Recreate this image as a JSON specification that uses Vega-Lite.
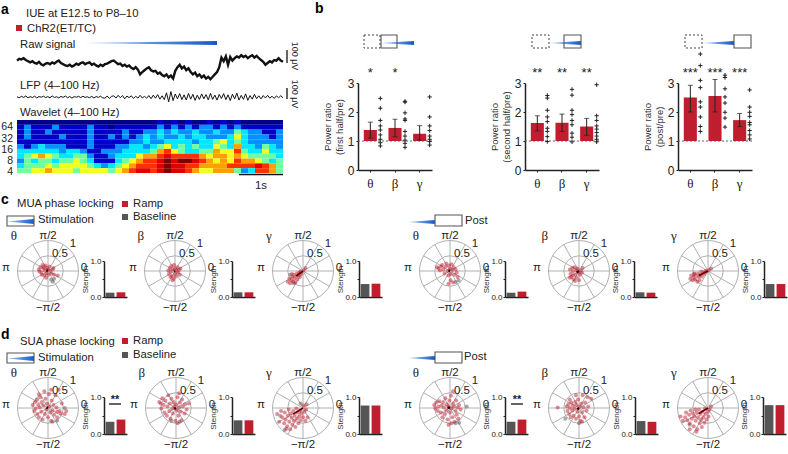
{"$schema":"https://vega.github.io/schema/vega-lite/v6.json","width":788,"height":454,"padding":0,"autosize":{"type":"none"},"background":"white",
"config":{"view":{"stroke":null},"font":"Liberation Sans","legend":{"disable":true},"axis":{"grid":false,"domainColor":"#222","tickColor":"#222","labelColor":"#222","titleColor":"#333","domainWidth":1.5,"titleFontWeight":"normal","labelFont":"Liberation Sans","titleFont":"Liberation Sans"},
"range":{"category":["#555555","#be1e2d"],"heatmap":["#00008f","#0000c8","#0090ff","#00e8ff","#70ffa0","#f0ff20","#ffa000","#ff3000","#e00000","#800000"]},
"text":{"color":"#222","fontSize":11.5},
"rule":{"color":"#b0b0b0","strokeWidth":1},
"point":{"color":"#b0b0b0","opacity":1,"strokeWidth":1},
"area":{"color":{"gradient":"linear","x1":0,"y1":0,"x2":1,"y2":0,"stops":[{"offset":0,"color":"#a6cbf2"},{"offset":1,"color":"#1259c9"}]}}},
"resolve":{"scale":{"x":"independent","y":"independent","color":"independent"}},
"datasets":{
"o":[{"x":0,"y":0}],
"ramp":[{"t":0,"a":0,"b":0},{"t":1,"a":1,"b":-1}],
"sp":[{"x":1,"y":0,"u":-1,"v":0},{"x":0.866,"y":0.5,"u":-0.866,"v":-0.5},{"x":0.5,"y":0.866,"u":-0.5,"v":-0.866},{"x":0,"y":1,"u":0,"v":-1},{"x":-0.5,"y":0.866,"u":0.5,"v":-0.866},{"x":-0.866,"y":0.5,"u":0.866,"v":-0.5}],
"pl":[{"x":0,"y":1.15,"t":"π/2"},{"x":0,"y":-1.22,"t":"−π/2"},{"x":-1.38,"y":0.1,"t":"π"},{"x":1.18,"y":0.1,"t":"0"},{"x":0.82,"y":0.88,"t":"1"},{"x":0.39,"y":0.55,"t":"0.5"}],
"raw":[{"t":0,"v":-5},{"t":1,"v":10},{"t":2,"v":5},{"t":3,"v":15},{"t":4,"v":0},{"t":5,"v":-10},{"t":6,"v":-20},{"t":7,"v":-10},{"t":8,"v":-25},{"t":9,"v":-30},{"t":10,"v":-15},{"t":11,"v":-35},{"t":12,"v":-45},{"t":13,"v":-30},{"t":14,"v":-25},{"t":15,"v":-35},{"t":16,"v":-20},{"t":17,"v":-30},{"t":18,"v":-15},{"t":19,"v":-5},{"t":20,"v":-25},{"t":21,"v":-35},{"t":22,"v":-45},{"t":23,"v":-50},{"t":24,"v":-40},{"t":25,"v":-55},{"t":26,"v":-45},{"t":27,"v":-30},{"t":28,"v":-40},{"t":29,"v":-25},{"t":30,"v":-20},{"t":31,"v":-35},{"t":32,"v":-25},{"t":33,"v":-20},{"t":34,"v":-40},{"t":35,"v":-30},{"t":36,"v":-45},{"t":37,"v":-55},{"t":38,"v":-40},{"t":39,"v":-50},{"t":40,"v":-35},{"t":41,"v":-30},{"t":42,"v":-20},{"t":43,"v":-10},{"t":44,"v":-5},{"t":45,"v":-20},{"t":46,"v":-35},{"t":47,"v":-30},{"t":48,"v":-50},{"t":49,"v":-40},{"t":50,"v":-55},{"t":51,"v":-45},{"t":52,"v":-65},{"t":53,"v":-75},{"t":54,"v":-60},{"t":55,"v":-80},{"t":56,"v":-120},{"t":57,"v":-100},{"t":58,"v":-85},{"t":59,"v":-70},{"t":60,"v":-60},{"t":61,"v":-85},{"t":62,"v":-95},{"t":63,"v":-90},{"t":64,"v":-115},{"t":65,"v":-105},{"t":66,"v":-125},{"t":67,"v":-135},{"t":68,"v":-120},{"t":69,"v":-145},{"t":70,"v":-130},{"t":71,"v":-155},{"t":72,"v":-90},{"t":73,"v":-60},{"t":74,"v":-40},{"t":75,"v":-70},{"t":76,"v":-55},{"t":77,"v":-85},{"t":78,"v":-70},{"t":79,"v":-100},{"t":80,"v":-120},{"t":81,"v":-105},{"t":82,"v":-135},{"t":83,"v":-120},{"t":84,"v":-145},{"t":85,"v":-130},{"t":86,"v":-155},{"t":87,"v":-140},{"t":88,"v":-160},{"t":89,"v":-140},{"t":90,"v":-120},{"t":91,"v":-100},{"t":92,"v":-60},{"t":93,"v":20},{"t":94,"v":-10},{"t":95,"v":30},{"t":96,"v":-40},{"t":97,"v":25},{"t":98,"v":-5},{"t":99,"v":15},{"t":100,"v":30},{"t":101,"v":20},{"t":102,"v":40},{"t":103,"v":25},{"t":104,"v":35},{"t":105,"v":15},{"t":106,"v":30},{"t":107,"v":40},{"t":108,"v":20},{"t":109,"v":35},{"t":110,"v":15},{"t":111,"v":0},{"t":112,"v":-15},{"t":113,"v":-40},{"t":114,"v":-25},{"t":115,"v":-10},{"t":116,"v":-20},{"t":117,"v":0},{"t":118,"v":-5},{"t":119,"v":15},{"t":120,"v":-5},{"t":121,"v":-15}],
"lfp":[{"t":0,"v":2},{"t":1,"v":-6},{"t":2,"v":5},{"t":3,"v":-3},{"t":4,"v":8},{"t":5,"v":-7},{"t":6,"v":3},{"t":7,"v":-4},{"t":8,"v":6},{"t":9,"v":-8},{"t":10,"v":4},{"t":11,"v":-2},{"t":12,"v":7},{"t":13,"v":-5},{"t":14,"v":3},{"t":15,"v":-6},{"t":16,"v":9},{"t":17,"v":-4},{"t":18,"v":2},{"t":19,"v":-7},{"t":20,"v":5},{"t":21,"v":-3},{"t":22,"v":8},{"t":23,"v":-6},{"t":24,"v":4},{"t":25,"v":-9},{"t":26,"v":3},{"t":27,"v":-2},{"t":28,"v":6},{"t":29,"v":-5},{"t":30,"v":7},{"t":31,"v":-4},{"t":32,"v":2},{"t":33,"v":-6},{"t":34,"v":5},{"t":35,"v":-8},{"t":36,"v":4},{"t":37,"v":-3},{"t":38,"v":6},{"t":39,"v":-7},{"t":40,"v":-10},{"t":41,"v":8},{"t":42,"v":-12},{"t":43,"v":5},{"t":44,"v":10},{"t":45,"v":-9},{"t":46,"v":14},{"t":47,"v":-6},{"t":48,"v":12},{"t":49,"v":-15},{"t":50,"v":8},{"t":51,"v":-5},{"t":52,"v":10},{"t":53,"v":-12},{"t":54,"v":6},{"t":55,"v":-9},{"t":56,"v":14},{"t":57,"v":-8},{"t":58,"v":5},{"t":59,"v":-10},{"t":60,"v":12},{"t":61,"v":-14},{"t":62,"v":16},{"t":63,"v":-10},{"t":64,"v":20},{"t":65,"v":-18},{"t":66,"v":10},{"t":67,"v":-22},{"t":68,"v":35},{"t":69,"v":-40},{"t":70,"v":45},{"t":71,"v":-30},{"t":72,"v":25},{"t":73,"v":-15},{"t":74,"v":28},{"t":75,"v":-22},{"t":76,"v":18},{"t":77,"v":-25},{"t":78,"v":30},{"t":79,"v":-18},{"t":80,"v":22},{"t":81,"v":-28},{"t":82,"v":15},{"t":83,"v":-20},{"t":84,"v":26},{"t":85,"v":-15},{"t":86,"v":20},{"t":87,"v":-24},{"t":88,"v":30},{"t":89,"v":-20},{"t":90,"v":16},{"t":91,"v":-26},{"t":92,"v":22},{"t":93,"v":-12},{"t":94,"v":28},{"t":95,"v":-22},{"t":96,"v":18},{"t":97,"v":-30},{"t":98,"v":24},{"t":99,"v":-16},{"t":100,"v":32},{"t":101,"v":-25},{"t":102,"v":14},{"t":103,"v":-20},{"t":104,"v":26},{"t":105,"v":-28},{"t":106,"v":12},{"t":107,"v":-18},{"t":108,"v":22},{"t":109,"v":-14},{"t":110,"v":10},{"t":111,"v":-16},{"t":112,"v":12},{"t":113,"v":-8},{"t":114,"v":14},{"t":115,"v":-10},{"t":116,"v":7},{"t":117,"v":-12},{"t":118,"v":9},{"t":119,"v":-6},{"t":120,"v":11},{"t":121,"v":-7}],
"heat":[
{"t":0,"f":10,"p":0},{"t":1,"f":10,"p":0},{"t":2,"f":10,"p":0},{"t":3,"f":10,"p":0},{"t":4,"f":10,"p":0},{"t":5,"f":10,"p":0},{"t":6,"f":10,"p":0},{"t":7,"f":10,"p":0},{"t":8,"f":10,"p":0},{"t":9,"f":10,"p":0},{"t":10,"f":10,"p":0},{"t":11,"f":10,"p":0},{"t":12,"f":10,"p":0},{"t":13,"f":10,"p":0},{"t":14,"f":10,"p":0},{"t":15,"f":10,"p":0},{"t":16,"f":10,"p":0},{"t":17,"f":10,"p":0},{"t":18,"f":10,"p":0},{"t":19,"f":10,"p":0},{"t":20,"f":10,"p":1},{"t":21,"f":10,"p":0},{"t":22,"f":10,"p":1},{"t":23,"f":10,"p":0},{"t":24,"f":10,"p":1},{"t":25,"f":10,"p":0},{"t":26,"f":10,"p":0},{"t":27,"f":10,"p":1},{"t":28,"f":10,"p":0},{"t":29,"f":10,"p":1},{"t":30,"f":10,"p":0},{"t":31,"f":10,"p":1},{"t":32,"f":10,"p":0},{"t":33,"f":10,"p":0},{"t":34,"f":10,"p":0},{"t":35,"f":10,"p":0},{"t":36,"f":10,"p":0},{"t":37,"f":10,"p":0},
{"t":0,"f":9,"p":1},{"t":1,"f":9,"p":2},{"t":2,"f":9,"p":1},{"t":3,"f":9,"p":1},{"t":4,"f":9,"p":1},{"t":5,"f":9,"p":2},{"t":6,"f":9,"p":1},{"t":7,"f":9,"p":1},{"t":8,"f":9,"p":1},{"t":9,"f":9,"p":1},{"t":10,"f":9,"p":2},{"t":11,"f":9,"p":1},{"t":12,"f":9,"p":1},{"t":13,"f":9,"p":0},{"t":14,"f":9,"p":1},{"t":15,"f":9,"p":1},{"t":16,"f":9,"p":1},{"t":17,"f":9,"p":1},{"t":18,"f":9,"p":1},{"t":19,"f":9,"p":1},{"t":20,"f":9,"p":2},{"t":21,"f":9,"p":1},{"t":22,"f":9,"p":2},{"t":23,"f":9,"p":1},{"t":24,"f":9,"p":2},{"t":25,"f":9,"p":1},{"t":26,"f":9,"p":2},{"t":27,"f":9,"p":2},{"t":28,"f":9,"p":1},{"t":29,"f":9,"p":2},{"t":30,"f":9,"p":1},{"t":31,"f":9,"p":2},{"t":32,"f":9,"p":1},{"t":33,"f":9,"p":1},{"t":34,"f":9,"p":1},{"t":35,"f":9,"p":1},{"t":36,"f":9,"p":1},{"t":37,"f":9,"p":1},
{"t":0,"f":8,"p":1},{"t":1,"f":8,"p":2},{"t":2,"f":8,"p":1},{"t":3,"f":8,"p":1},{"t":4,"f":8,"p":2},{"t":5,"f":8,"p":1},{"t":6,"f":8,"p":1},{"t":7,"f":8,"p":1},{"t":8,"f":8,"p":1},{"t":9,"f":8,"p":1},{"t":10,"f":8,"p":2},{"t":11,"f":8,"p":1},{"t":12,"f":8,"p":1},{"t":13,"f":8,"p":1},{"t":14,"f":8,"p":1},{"t":15,"f":8,"p":2},{"t":16,"f":8,"p":1},{"t":17,"f":8,"p":1},{"t":18,"f":8,"p":2},{"t":19,"f":8,"p":2},{"t":20,"f":8,"p":3},{"t":21,"f":8,"p":2},{"t":22,"f":8,"p":3},{"t":23,"f":8,"p":2},{"t":24,"f":8,"p":2},{"t":25,"f":8,"p":3},{"t":26,"f":8,"p":2},{"t":27,"f":8,"p":2},{"t":28,"f":8,"p":3},{"t":29,"f":8,"p":2},{"t":30,"f":8,"p":2},{"t":31,"f":8,"p":4},{"t":32,"f":8,"p":3},{"t":33,"f":8,"p":2},{"t":34,"f":8,"p":2},{"t":35,"f":8,"p":1},{"t":36,"f":8,"p":1},{"t":37,"f":8,"p":2},
{"t":0,"f":7,"p":1},{"t":1,"f":7,"p":2},{"t":2,"f":7,"p":1},{"t":3,"f":7,"p":1},{"t":4,"f":7,"p":1},{"t":5,"f":7,"p":1},{"t":6,"f":7,"p":2},{"t":7,"f":7,"p":1},{"t":8,"f":7,"p":1},{"t":9,"f":7,"p":1},{"t":10,"f":7,"p":2},{"t":11,"f":7,"p":1},{"t":12,"f":7,"p":1},{"t":13,"f":7,"p":2},{"t":14,"f":7,"p":1},{"t":15,"f":7,"p":2},{"t":16,"f":7,"p":1},{"t":17,"f":7,"p":2},{"t":18,"f":7,"p":3},{"t":19,"f":7,"p":2},{"t":20,"f":7,"p":3},{"t":21,"f":7,"p":2},{"t":22,"f":7,"p":2},{"t":23,"f":7,"p":3},{"t":24,"f":7,"p":2},{"t":25,"f":7,"p":3},{"t":26,"f":7,"p":3},{"t":27,"f":7,"p":2},{"t":28,"f":7,"p":2},{"t":29,"f":7,"p":2},{"t":30,"f":7,"p":3},{"t":31,"f":7,"p":5},{"t":32,"f":7,"p":3},{"t":33,"f":7,"p":2},{"t":34,"f":7,"p":2},{"t":35,"f":7,"p":2},{"t":36,"f":7,"p":1},{"t":37,"f":7,"p":2},
{"t":0,"f":6,"p":1},{"t":1,"f":6,"p":1},{"t":2,"f":6,"p":1},{"t":3,"f":6,"p":1},{"t":4,"f":6,"p":1},{"t":5,"f":6,"p":1},{"t":6,"f":6,"p":1},{"t":7,"f":6,"p":1},{"t":8,"f":6,"p":1},{"t":9,"f":6,"p":1},{"t":10,"f":6,"p":2},{"t":11,"f":6,"p":1},{"t":12,"f":6,"p":1},{"t":13,"f":6,"p":1},{"t":14,"f":6,"p":1},{"t":15,"f":6,"p":1},{"t":16,"f":6,"p":2},{"t":17,"f":6,"p":2},{"t":18,"f":6,"p":3},{"t":19,"f":6,"p":2},{"t":20,"f":6,"p":2},{"t":21,"f":6,"p":3},{"t":22,"f":6,"p":3},{"t":23,"f":6,"p":3},{"t":24,"f":6,"p":3},{"t":25,"f":6,"p":2},{"t":26,"f":6,"p":3},{"t":27,"f":6,"p":3},{"t":28,"f":6,"p":4},{"t":29,"f":6,"p":5},{"t":30,"f":6,"p":3},{"t":31,"f":6,"p":4},{"t":32,"f":6,"p":3},{"t":33,"f":6,"p":2},{"t":34,"f":6,"p":2},{"t":35,"f":6,"p":2},{"t":36,"f":6,"p":2},{"t":37,"f":6,"p":2},
{"t":0,"f":5,"p":2},{"t":1,"f":5,"p":1},{"t":2,"f":5,"p":2},{"t":3,"f":5,"p":3},{"t":4,"f":5,"p":2},{"t":5,"f":5,"p":2},{"t":6,"f":5,"p":2},{"t":7,"f":5,"p":1},{"t":8,"f":5,"p":1},{"t":9,"f":5,"p":1},{"t":10,"f":5,"p":2},{"t":11,"f":5,"p":1},{"t":12,"f":5,"p":1},{"t":13,"f":5,"p":1},{"t":14,"f":5,"p":2},{"t":15,"f":5,"p":2},{"t":16,"f":5,"p":3},{"t":17,"f":5,"p":3},{"t":18,"f":5,"p":2},{"t":19,"f":5,"p":3},{"t":20,"f":5,"p":4},{"t":21,"f":5,"p":5},{"t":22,"f":5,"p":3},{"t":23,"f":5,"p":4},{"t":24,"f":5,"p":3},{"t":25,"f":5,"p":4},{"t":26,"f":5,"p":3},{"t":27,"f":5,"p":3},{"t":28,"f":5,"p":5},{"t":29,"f":5,"p":4},{"t":30,"f":5,"p":3},{"t":31,"f":5,"p":6},{"t":32,"f":5,"p":3},{"t":33,"f":5,"p":3},{"t":34,"f":5,"p":2},{"t":35,"f":5,"p":4},{"t":36,"f":5,"p":3},{"t":37,"f":5,"p":2},
{"t":0,"f":4,"p":3},{"t":1,"f":4,"p":3},{"t":2,"f":4,"p":3},{"t":3,"f":4,"p":3},{"t":4,"f":4,"p":3},{"t":5,"f":4,"p":3},{"t":6,"f":4,"p":2},{"t":7,"f":4,"p":3},{"t":8,"f":4,"p":3},{"t":9,"f":4,"p":2},{"t":10,"f":4,"p":1},{"t":11,"f":4,"p":1},{"t":12,"f":4,"p":2},{"t":13,"f":4,"p":2},{"t":14,"f":4,"p":2},{"t":15,"f":4,"p":3},{"t":16,"f":4,"p":3},{"t":17,"f":4,"p":3},{"t":18,"f":4,"p":3},{"t":19,"f":4,"p":4},{"t":20,"f":4,"p":6},{"t":21,"f":4,"p":7},{"t":22,"f":4,"p":5},{"t":23,"f":4,"p":4},{"t":24,"f":4,"p":3},{"t":25,"f":4,"p":3},{"t":26,"f":4,"p":4},{"t":27,"f":4,"p":4},{"t":28,"f":4,"p":6},{"t":29,"f":4,"p":5},{"t":30,"f":4,"p":5},{"t":31,"f":4,"p":7},{"t":32,"f":4,"p":4},{"t":33,"f":4,"p":3},{"t":34,"f":4,"p":3},{"t":35,"f":4,"p":5},{"t":36,"f":4,"p":3},{"t":37,"f":4,"p":3},
{"t":0,"f":3,"p":3},{"t":1,"f":3,"p":4},{"t":2,"f":3,"p":5},{"t":3,"f":3,"p":6},{"t":4,"f":3,"p":5},{"t":5,"f":3,"p":4},{"t":6,"f":3,"p":3},{"t":7,"f":3,"p":3},{"t":8,"f":3,"p":4},{"t":9,"f":3,"p":4},{"t":10,"f":3,"p":2},{"t":11,"f":3,"p":1},{"t":12,"f":3,"p":1},{"t":13,"f":3,"p":2},{"t":14,"f":3,"p":3},{"t":15,"f":3,"p":3},{"t":16,"f":3,"p":3},{"t":17,"f":3,"p":5},{"t":18,"f":3,"p":6},{"t":19,"f":3,"p":6},{"t":20,"f":3,"p":7},{"t":21,"f":3,"p":8},{"t":22,"f":3,"p":7},{"t":23,"f":3,"p":7},{"t":24,"f":3,"p":7},{"t":25,"f":3,"p":7},{"t":26,"f":3,"p":6},{"t":27,"f":3,"p":5},{"t":28,"f":3,"p":6},{"t":29,"f":3,"p":6},{"t":30,"f":3,"p":5},{"t":31,"f":3,"p":6},{"t":32,"f":3,"p":5},{"t":33,"f":3,"p":4},{"t":34,"f":3,"p":4},{"t":35,"f":3,"p":4},{"t":36,"f":3,"p":4},{"t":37,"f":3,"p":3},
{"t":0,"f":2,"p":2},{"t":1,"f":2,"p":4},{"t":2,"f":2,"p":3},{"t":3,"f":2,"p":4},{"t":4,"f":2,"p":4},{"t":5,"f":2,"p":3},{"t":6,"f":2,"p":4},{"t":7,"f":2,"p":4},{"t":8,"f":2,"p":5},{"t":9,"f":2,"p":4},{"t":10,"f":2,"p":3},{"t":11,"f":2,"p":1},{"t":12,"f":2,"p":1},{"t":13,"f":2,"p":1},{"t":14,"f":2,"p":3},{"t":15,"f":2,"p":4},{"t":16,"f":2,"p":5},{"t":17,"f":2,"p":6},{"t":18,"f":2,"p":7},{"t":19,"f":2,"p":7},{"t":20,"f":2,"p":8},{"t":21,"f":2,"p":9},{"t":22,"f":2,"p":8},{"t":23,"f":2,"p":9},{"t":24,"f":2,"p":9},{"t":25,"f":2,"p":8},{"t":26,"f":2,"p":7},{"t":27,"f":2,"p":6},{"t":28,"f":2,"p":5},{"t":29,"f":2,"p":6},{"t":30,"f":2,"p":5},{"t":31,"f":2,"p":7},{"t":32,"f":2,"p":6},{"t":33,"f":2,"p":6},{"t":34,"f":2,"p":5},{"t":35,"f":2,"p":4},{"t":36,"f":2,"p":3},{"t":37,"f":2,"p":4},
{"t":0,"f":1,"p":3},{"t":1,"f":1,"p":4},{"t":2,"f":1,"p":4},{"t":3,"f":1,"p":4},{"t":4,"f":1,"p":5},{"t":5,"f":1,"p":4},{"t":6,"f":1,"p":5},{"t":7,"f":1,"p":5},{"t":8,"f":1,"p":5},{"t":9,"f":1,"p":5},{"t":10,"f":1,"p":4},{"t":11,"f":1,"p":3},{"t":12,"f":1,"p":2},{"t":13,"f":1,"p":3},{"t":14,"f":1,"p":4},{"t":15,"f":1,"p":5},{"t":16,"f":1,"p":6},{"t":17,"f":1,"p":7},{"t":18,"f":1,"p":7},{"t":19,"f":1,"p":7},{"t":20,"f":1,"p":8},{"t":21,"f":1,"p":9},{"t":22,"f":1,"p":8},{"t":23,"f":1,"p":8},{"t":24,"f":1,"p":7},{"t":25,"f":1,"p":7},{"t":26,"f":1,"p":6},{"t":27,"f":1,"p":6},{"t":28,"f":1,"p":6},{"t":29,"f":1,"p":6},{"t":30,"f":1,"p":7},{"t":31,"f":1,"p":7},{"t":32,"f":1,"p":7},{"t":33,"f":1,"p":7},{"t":34,"f":1,"p":8},{"t":35,"f":1,"p":7},{"t":36,"f":1,"p":6},{"t":37,"f":1,"p":4},
{"t":0,"f":0,"p":4},{"t":1,"f":0,"p":4},{"t":2,"f":0,"p":5},{"t":3,"f":0,"p":5},{"t":4,"f":0,"p":6},{"t":5,"f":0,"p":5},{"t":6,"f":0,"p":5},{"t":7,"f":0,"p":5},{"t":8,"f":0,"p":4},{"t":9,"f":0,"p":5},{"t":10,"f":0,"p":5},{"t":11,"f":0,"p":5},{"t":12,"f":0,"p":5},{"t":13,"f":0,"p":4},{"t":14,"f":0,"p":5},{"t":15,"f":0,"p":6},{"t":16,"f":0,"p":7},{"t":17,"f":0,"p":8},{"t":18,"f":0,"p":8},{"t":19,"f":0,"p":7},{"t":20,"f":0,"p":8},{"t":21,"f":0,"p":9},{"t":22,"f":0,"p":8},{"t":23,"f":0,"p":8},{"t":24,"f":0,"p":7},{"t":25,"f":0,"p":6},{"t":26,"f":0,"p":5},{"t":27,"f":0,"p":5},{"t":28,"f":0,"p":6},{"t":29,"f":0,"p":6},{"t":30,"f":0,"p":6},{"t":31,"f":0,"p":4},{"t":32,"f":0,"p":2},{"t":33,"f":0,"p":3},{"t":34,"f":0,"p":7},{"t":35,"f":0,"p":7},{"t":36,"f":0,"p":6},{"t":37,"f":0,"p":4}],
"b1":[{"c":"θ","v":1.38},{"c":"β","v":1.45},{"c":"γ","v":1.25}],
"b2":[{"c":"θ","v":1.62},{"c":"β","v":1.63},{"c":"γ","v":1.5}],
"b3":[{"c":"θ","v":2.5},{"c":"β","v":2.55},{"c":"γ","v":1.72}],
"e1":[{"c":"θ","v":1.1},{"c":"θ","v":1.65},{"c":"β","v":1.15},{"c":"β","v":1.75},{"c":"γ","v":1.03},{"c":"γ","v":1.53}],
"e2":[{"c":"θ","v":1.35},{"c":"θ","v":1.87},{"c":"β","v":1.33},{"c":"β","v":1.93},{"c":"γ","v":1.2},{"c":"γ","v":1.78}],
"e3":[{"c":"θ","v":2.0},{"c":"θ","v":2.92},{"c":"β","v":2.0},{"c":"β","v":3.12},{"c":"γ","v":1.5},{"c":"γ","v":1.95}],
"s1":[{"c":"θ","v":3.35,"s":"*"},{"c":"β","v":3.35,"s":"*"}],
"s2":[{"c":"θ","v":3.35,"s":"**"},{"c":"β","v":3.35,"s":"**"},{"c":"γ","v":3.35,"s":"**"}],
"s3":[{"c":"θ","v":3.35,"s":"***"},{"c":"β","v":3.35,"s":"***"},{"c":"γ","v":3.35,"s":"***"}],
"p1":[{"c":"θ","v":2.47},{"c":"θ","v":2.13},{"c":"θ","v":1.71},{"c":"θ","v":1.52},{"c":"θ","v":1.38},{"c":"θ","v":1.21},{"c":"θ","v":1.06},{"c":"θ","v":0.94},{"c":"θ","v":0.83},{"c":"β","v":2.37},{"c":"β","v":2.34},{"c":"β","v":1.97},{"c":"β","v":1.76},{"c":"β","v":1.71},{"c":"β","v":1.33},{"c":"β","v":1.17},{"c":"β","v":1.03},{"c":"β","v":0.92},{"c":"β","v":0.78},{"c":"γ","v":2.52},{"c":"γ","v":1.83},{"c":"γ","v":1.52},{"c":"γ","v":1.36},{"c":"γ","v":1.17},{"c":"γ","v":1.06},{"c":"γ","v":0.98},{"c":"γ","v":0.86}],
"p2":[{"c":"θ","v":2.57},{"c":"θ","v":2.48},{"c":"θ","v":2.06},{"c":"θ","v":1.83},{"c":"θ","v":1.67},{"c":"θ","v":1.44},{"c":"θ","v":1.33},{"c":"θ","v":1.15},{"c":"θ","v":0.98},{"c":"β","v":2.78},{"c":"β","v":2.58},{"c":"β","v":2.06},{"c":"β","v":1.91},{"c":"β","v":1.71},{"c":"β","v":1.56},{"c":"β","v":1.27},{"c":"β","v":1.13},{"c":"β","v":0.97},{"c":"γ","v":2.94},{"c":"γ","v":1.87},{"c":"γ","v":1.71},{"c":"γ","v":1.52},{"c":"γ","v":1.41},{"c":"γ","v":1.29},{"c":"γ","v":1.17},{"c":"γ","v":1.06},{"c":"γ","v":0.97}],
"p3":[{"c":"θ","v":4.0},{"c":"θ","v":3.6},{"c":"θ","v":3.09},{"c":"θ","v":2.84},{"c":"θ","v":2.35},{"c":"θ","v":2.17},{"c":"θ","v":1.83},{"c":"θ","v":1.5},{"c":"θ","v":1.33},{"c":"β","v":3.27},{"c":"β","v":3.19},{"c":"β","v":2.8},{"c":"β","v":2.52},{"c":"β","v":2.31},{"c":"β","v":1.99},{"c":"β","v":1.79},{"c":"β","v":1.48},{"c":"γ","v":2.76},{"c":"γ","v":2.17},{"c":"γ","v":1.99},{"c":"γ","v":1.85},{"c":"γ","v":1.64},{"c":"γ","v":1.56},{"c":"γ","v":1.36},{"c":"γ","v":1.21},{"c":"γ","v":1.07}],
"c1":[{"x":0.1,"y":-0.28,"s":"B"},{"x":0.2,"y":-0.25,"s":"B"},{"x":0.15,"y":-0.35,"s":"B"},{"x":-0.3,"y":0.05,"s":"R"},{"x":-0.25,"y":0.12,"s":"R"},{"x":-0.22,"y":-0.05,"s":"R"},{"x":-0.18,"y":0.2,"s":"R"},{"x":-0.15,"y":0.08,"s":"R"},{"x":-0.12,"y":-0.15,"s":"R"},{"x":-0.1,"y":0.02,"s":"R"},{"x":-0.08,"y":0.18,"s":"R"},{"x":-0.05,"y":-0.08,"s":"R"},{"x":-0.03,"y":0.1,"s":"R"},{"x":0,"y":0.05,"s":"R"},{"x":0.02,"y":-0.12,"s":"R"},{"x":0.05,"y":0.15,"s":"R"},{"x":0.08,"y":0,"s":"R"},{"x":0.12,"y":-0.08,"s":"R"},{"x":0.15,"y":0.06,"s":"R"},{"x":-0.2,"y":-0.12,"s":"R"},{"x":-0.28,"y":-0.02,"s":"R"},{"x":-0.14,"y":0.13,"s":"R"},{"x":0.2,"y":-0.12,"s":"R"},{"x":0.32,"y":-0.15,"s":"R"},{"x":-0.06,"y":-0.22,"s":"R"},{"x":0.18,"y":0.1,"s":"R"}],
"c2":[{"x":-0.22,"y":0.02,"s":"R"},{"x":-0.2,"y":-0.1,"s":"R"},{"x":-0.17,"y":0.1,"s":"R"},{"x":-0.14,"y":-0.02,"s":"R"},{"x":-0.12,"y":0.16,"s":"R"},{"x":-0.1,"y":-0.16,"s":"R"},{"x":-0.07,"y":0.05,"s":"R"},{"x":-0.05,"y":-0.25,"s":"R"},{"x":-0.03,"y":0.2,"s":"R"},{"x":0,"y":0.08,"s":"R"},{"x":0,"y":-0.1,"s":"R"},{"x":0.03,"y":-0.18,"s":"R"},{"x":0.05,"y":0.02,"s":"R"},{"x":0.08,"y":0.12,"s":"R"},{"x":0.1,"y":-0.06,"s":"R"},{"x":0.13,"y":0.03,"s":"R"},{"x":0.16,"y":-0.12,"s":"R"},{"x":-0.15,"y":-0.2,"s":"R"},{"x":-0.08,"y":-0.3,"s":"R"},{"x":0.18,"y":0.08,"s":"R"}],
"c3":[{"x":-0.3,"y":-0.4,"s":"B"},{"x":-0.42,"y":-0.12,"s":"B"},{"x":-0.5,"y":-0.35,"s":"R"},{"x":-0.45,"y":-0.25,"s":"R"},{"x":-0.42,"y":-0.4,"s":"R"},{"x":-0.38,"y":-0.3,"s":"R"},{"x":-0.35,"y":-0.2,"s":"R"},{"x":-0.32,"y":-0.35,"s":"R"},{"x":-0.3,"y":-0.12,"s":"R"},{"x":-0.28,"y":-0.25,"s":"R"},{"x":-0.25,"y":-0.38,"s":"R"},{"x":-0.22,"y":-0.18,"s":"R"},{"x":-0.2,"y":-0.08,"s":"R"},{"x":-0.18,"y":-0.28,"s":"R"},{"x":-0.15,"y":-0.14,"s":"R"},{"x":-0.12,"y":-0.05,"s":"R"},{"x":-0.1,"y":-0.2,"s":"R"},{"x":-0.08,"y":-0.02,"s":"R"},{"x":-0.05,"y":-0.1,"s":"R"},{"x":0.02,"y":0.02,"s":"R"},{"x":-0.36,"y":-0.1,"s":"R"},{"x":0.08,"y":0.1,"s":"R"}],
"c4":[{"x":0.28,"y":-0.3,"s":"B"},{"x":0.18,"y":-0.36,"s":"B"},{"x":-0.42,"y":0.12,"s":"R"},{"x":-0.38,"y":0.08,"s":"R"},{"x":-0.33,"y":0.02,"s":"R"},{"x":-0.3,"y":0.15,"s":"R"},{"x":-0.26,"y":0.2,"s":"R"},{"x":-0.22,"y":0.05,"s":"R"},{"x":-0.18,"y":-0.08,"s":"R"},{"x":-0.15,"y":0.14,"s":"R"},{"x":-0.12,"y":0.25,"s":"R"},{"x":-0.08,"y":0,"s":"R"},{"x":-0.05,"y":-0.15,"s":"R"},{"x":-0.03,"y":0.18,"s":"R"},{"x":0,"y":0.07,"s":"R"},{"x":0.03,"y":-0.1,"s":"R"},{"x":0.05,"y":0.22,"s":"R"},{"x":0.08,"y":0.03,"s":"R"},{"x":0.12,"y":0.12,"s":"R"},{"x":0.15,"y":-0.12,"s":"R"},{"x":0.18,"y":0.06,"s":"R"},{"x":0.22,"y":-0.05,"s":"R"},{"x":0.02,"y":-0.3,"s":"R"},{"x":-0.05,"y":-0.42,"s":"R"},{"x":0.1,"y":-0.38,"s":"R"},{"x":0.25,"y":-0.2,"s":"R"}],
"c5":[{"x":-0.3,"y":0.05,"s":"R"},{"x":-0.28,"y":-0.1,"s":"R"},{"x":-0.25,"y":-0.2,"s":"R"},{"x":-0.22,"y":0.1,"s":"R"},{"x":-0.2,"y":-0.02,"s":"R"},{"x":-0.18,"y":-0.28,"s":"R"},{"x":-0.15,"y":0.12,"s":"R"},{"x":-0.12,"y":-0.12,"s":"R"},{"x":-0.1,"y":0.03,"s":"R"},{"x":-0.08,"y":-0.22,"s":"R"},{"x":-0.05,"y":0.08,"s":"R"},{"x":-0.02,"y":-0.05,"s":"R"},{"x":0,"y":-0.3,"s":"R"},{"x":0.03,"y":-0.12,"s":"R"},{"x":0.06,"y":0.02,"s":"R"},{"x":0.1,"y":-0.06,"s":"R"},{"x":-0.2,"y":-0.15,"s":"R"},{"x":-0.13,"y":-0.33,"s":"R"},{"x":0.12,"y":0.1,"s":"R"},{"x":-0.3,"y":-0.22,"s":"R"}],
"c6":[{"x":-0.45,"y":-0.1,"s":"B"},{"x":-0.58,"y":-0.25,"s":"R"},{"x":-0.55,"y":-0.15,"s":"R"},{"x":-0.5,"y":-0.3,"s":"R"},{"x":-0.48,"y":-0.2,"s":"R"},{"x":-0.45,"y":-0.08,"s":"R"},{"x":-0.42,"y":-0.28,"s":"R"},{"x":-0.4,"y":-0.15,"s":"R"},{"x":-0.35,"y":-0.35,"s":"R"},{"x":-0.33,"y":-0.08,"s":"R"},{"x":-0.3,"y":-0.2,"s":"R"},{"x":-0.28,"y":-0.3,"s":"R"},{"x":-0.25,"y":-0.12,"s":"R"},{"x":-0.22,"y":-0.02,"s":"R"},{"x":-0.2,"y":-0.18,"s":"R"},{"x":-0.15,"y":-0.05,"s":"R"},{"x":-0.12,"y":-0.1,"s":"R"},{"x":-0.08,"y":0,"s":"R"},{"x":-0.05,"y":-0.02,"s":"R"},{"x":0.03,"y":0.03,"s":"R"},{"x":0.1,"y":0.08,"s":"R"}],
"d1":[{"x":0.3,"y":-0.42,"s":"B"},{"x":0.55,"y":0,"s":"B"},{"x":0.15,"y":-0.45,"s":"B"},{"x":-0.5,"y":0.1,"s":"R"},{"x":-0.45,"y":-0.1,"s":"R"},{"x":-0.42,"y":0.2,"s":"R"},{"x":-0.4,"y":-0.02,"s":"R"},{"x":-0.36,"y":0.28,"s":"R"},{"x":-0.35,"y":-0.2,"s":"R"},{"x":-0.32,"y":0.1,"s":"R"},{"x":-0.3,"y":-0.3,"s":"R"},{"x":-0.27,"y":0.02,"s":"R"},{"x":-0.25,"y":0.35,"s":"R"},{"x":-0.22,"y":-0.12,"s":"R"},{"x":-0.2,"y":0.2,"s":"R"},{"x":-0.18,"y":-0.38,"s":"R"},{"x":-0.15,"y":0.08,"s":"R"},{"x":-0.12,"y":0.55,"s":"R"},{"x":-0.1,"y":-0.2,"s":"R"},{"x":-0.08,"y":0.3,"s":"R"},{"x":-0.05,"y":-0.05,"s":"R"},{"x":-0.02,"y":0.15,"s":"R"},{"x":0,"y":-0.3,"s":"R"},{"x":0.03,"y":0.45,"s":"R"},{"x":0.05,"y":0.05,"s":"R"},{"x":0.08,"y":-0.15,"s":"R"},{"x":0.1,"y":0.6,"s":"R"},{"x":0.12,"y":0.25,"s":"R"},{"x":0.15,"y":-0.08,"s":"R"},{"x":0.18,"y":0.1,"s":"R"},{"x":0.2,"y":-0.22,"s":"R"},{"x":0.25,"y":0.42,"s":"R"},{"x":0.28,"y":0.02,"s":"R"},{"x":0.3,"y":-0.12,"s":"R"},{"x":0.35,"y":0.6,"s":"R"},{"x":0.38,"y":-0.1,"s":"R"},{"x":0.42,"y":-0.18,"s":"R"},{"x":0.55,"y":-0.2,"s":"R"},{"x":0.6,"y":-0.1,"s":"R"},{"x":0.1,"y":-0.42,"s":"R"},{"x":0.3,"y":-0.3,"s":"R"},{"x":-0.3,"y":0.45,"s":"R"},{"x":0.45,"y":0.15,"s":"R"}],
"d2":[{"x":-0.15,"y":-0.42,"s":"B"},{"x":0.12,"y":-0.45,"s":"B"},{"x":-0.5,"y":0.15,"s":"R"},{"x":-0.48,"y":-0.02,"s":"R"},{"x":-0.45,"y":0.32,"s":"R"},{"x":-0.4,"y":0.1,"s":"R"},{"x":-0.38,"y":-0.15,"s":"R"},{"x":-0.35,"y":0.25,"s":"R"},{"x":-0.3,"y":-0.25,"s":"R"},{"x":-0.28,"y":0.05,"s":"R"},{"x":-0.25,"y":0.42,"s":"R"},{"x":-0.22,"y":-0.1,"s":"R"},{"x":-0.2,"y":0.15,"s":"R"},{"x":-0.18,"y":-0.35,"s":"R"},{"x":-0.15,"y":0.3,"s":"R"},{"x":-0.12,"y":-0.02,"s":"R"},{"x":-0.1,"y":-0.18,"s":"R"},{"x":-0.08,"y":0.2,"s":"R"},{"x":-0.05,"y":0.05,"s":"R"},{"x":-0.02,"y":-0.42,"s":"R"},{"x":0,"y":0.12,"s":"R"},{"x":0.03,"y":-0.08,"s":"R"},{"x":0.05,"y":0.35,"s":"R"},{"x":0.08,"y":-0.25,"s":"R"},{"x":0.1,"y":0.02,"s":"R"},{"x":0.13,"y":0.18,"s":"R"},{"x":0.15,"y":-0.12,"s":"R"},{"x":0.18,"y":-0.4,"s":"R"},{"x":0.2,"y":0.28,"s":"R"},{"x":0.22,"y":0.05,"s":"R"},{"x":0.28,"y":-0.18,"s":"R"},{"x":0.3,"y":0.12,"s":"R"},{"x":0.35,"y":-0.05,"s":"R"},{"x":0.42,"y":0.15,"s":"R"},{"x":0.1,"y":0.48,"s":"R"},{"x":-0.55,"y":0.2,"s":"R"},{"x":0.05,"y":-0.5,"s":"R"}],
"d3":[{"x":-0.75,"y":-0.25,"s":"B"},{"x":-0.6,"y":-0.72,"s":"B"},{"x":-0.08,"y":0.15,"s":"B"},{"x":-0.85,"y":-0.2,"s":"R"},{"x":-0.78,"y":-0.45,"s":"R"},{"x":-0.72,"y":-0.1,"s":"R"},{"x":-0.68,"y":-0.3,"s":"R"},{"x":-0.62,"y":-0.5,"s":"R"},{"x":-0.6,"y":-0.15,"s":"R"},{"x":-0.57,"y":-0.38,"s":"R"},{"x":-0.52,"y":-0.6,"s":"R"},{"x":-0.5,"y":-0.25,"s":"R"},{"x":-0.47,"y":-0.05,"s":"R"},{"x":-0.45,"y":-0.45,"s":"R"},{"x":-0.42,"y":-0.7,"s":"R"},{"x":-0.4,"y":-0.18,"s":"R"},{"x":-0.37,"y":-0.32,"s":"R"},{"x":-0.35,"y":-0.55,"s":"R"},{"x":-0.32,"y":-0.1,"s":"R"},{"x":-0.3,"y":-0.42,"s":"R"},{"x":-0.27,"y":-0.25,"s":"R"},{"x":-0.25,"y":-0.62,"s":"R"},{"x":-0.22,"y":-0.02,"s":"R"},{"x":-0.2,"y":-0.35,"s":"R"},{"x":-0.18,"y":-0.15,"s":"R"},{"x":-0.15,"y":-0.5,"s":"R"},{"x":-0.12,"y":-0.28,"s":"R"},{"x":-0.1,"y":-0.08,"s":"R"},{"x":-0.08,"y":-0.4,"s":"R"},{"x":-0.05,"y":-0.18,"s":"R"},{"x":0,"y":-0.3,"s":"R"},{"x":0.05,"y":-0.12,"s":"R"},{"x":0.02,"y":0.08,"s":"R"},{"x":0.08,"y":-0.42,"s":"R"},{"x":0.1,"y":-0.05,"s":"R"},{"x":0.15,"y":-0.3,"s":"R"},{"x":0.12,"y":0.12,"s":"R"},{"x":-0.55,"y":-0.68,"s":"R"}],
"d4":[{"x":0.18,"y":-0.5,"s":"B"},{"x":0.3,"y":-0.48,"s":"B"},{"x":0.55,"y":0.05,"s":"B"},{"x":-0.52,"y":0.1,"s":"R"},{"x":-0.48,"y":-0.02,"s":"R"},{"x":-0.45,"y":0.18,"s":"R"},{"x":-0.4,"y":-0.1,"s":"R"},{"x":-0.38,"y":0.05,"s":"R"},{"x":-0.35,"y":0.22,"s":"R"},{"x":-0.3,"y":-0.15,"s":"R"},{"x":-0.28,"y":0.08,"s":"R"},{"x":-0.25,"y":-0.3,"s":"R"},{"x":-0.22,"y":0.2,"s":"R"},{"x":-0.2,"y":0.02,"s":"R"},{"x":-0.18,"y":-0.2,"s":"R"},{"x":-0.15,"y":0.32,"s":"R"},{"x":-0.12,"y":-0.08,"s":"R"},{"x":-0.1,"y":0.12,"s":"R"},{"x":-0.08,"y":-0.38,"s":"R"},{"x":-0.05,"y":0.05,"s":"R"},{"x":-0.02,"y":0.25,"s":"R"},{"x":0,"y":-0.15,"s":"R"},{"x":0.03,"y":0.4,"s":"R"},{"x":0.05,"y":-0.02,"s":"R"},{"x":0.08,"y":-0.3,"s":"R"},{"x":0.1,"y":0.15,"s":"R"},{"x":0.13,"y":0.05,"s":"R"},{"x":0.15,"y":-0.45,"s":"R"},{"x":0.18,"y":-0.1,"s":"R"},{"x":0.2,"y":0.25,"s":"R"},{"x":0.22,"y":-0.22,"s":"R"},{"x":0.25,"y":0.02,"s":"R"},{"x":0.28,"y":-0.35,"s":"R"},{"x":0.3,"y":0.1,"s":"R"},{"x":0.35,"y":-0.05,"s":"R"},{"x":0.05,"y":-0.5,"s":"R"},{"x":-0.05,"y":-0.55,"s":"R"},{"x":0.1,"y":0.55,"s":"R"}],
"d5":[{"x":-0.45,"y":-0.35,"s":"B"},{"x":0,"y":-0.5,"s":"B"},{"x":-0.7,"y":0.02,"s":"R"},{"x":-0.4,"y":0.05,"s":"R"},{"x":-0.38,"y":-0.1,"s":"R"},{"x":-0.35,"y":0.12,"s":"R"},{"x":-0.32,"y":-0.2,"s":"R"},{"x":-0.3,"y":0,"s":"R"},{"x":-0.27,"y":-0.3,"s":"R"},{"x":-0.25,"y":0.18,"s":"R"},{"x":-0.22,"y":-0.08,"s":"R"},{"x":-0.2,"y":0.08,"s":"R"},{"x":-0.18,"y":-0.25,"s":"R"},{"x":-0.15,"y":-0.02,"s":"R"},{"x":-0.12,"y":0.2,"s":"R"},{"x":-0.1,"y":-0.35,"s":"R"},{"x":-0.08,"y":0.1,"s":"R"},{"x":-0.05,"y":-0.12,"s":"R"},{"x":-0.03,"y":0.28,"s":"R"},{"x":0,"y":-0.28,"s":"R"},{"x":0.03,"y":0.05,"s":"R"},{"x":0.05,"y":-0.42,"s":"R"},{"x":0.08,"y":0.15,"s":"R"},{"x":0.1,"y":-0.15,"s":"R"},{"x":0.12,"y":0.42,"s":"R"},{"x":0.15,"y":0.02,"s":"R"},{"x":0.18,"y":-0.3,"s":"R"},{"x":0.2,"y":0.18,"s":"R"},{"x":0.25,"y":-0.08,"s":"R"},{"x":0.3,"y":0.05,"s":"R"},{"x":0.28,"y":0.35,"s":"R"},{"x":0.4,"y":0.3,"s":"R"},{"x":-0.1,"y":0.42,"s":"R"},{"x":0.1,"y":-0.45,"s":"R"},{"x":-0.3,"y":0.28,"s":"R"}],
"d6":[{"x":-0.6,"y":-0.55,"s":"B"},{"x":-0.9,"y":-0.28,"s":"R"},{"x":-0.75,"y":-0.3,"s":"R"},{"x":-0.72,"y":-0.15,"s":"R"},{"x":-0.68,"y":-0.4,"s":"R"},{"x":-0.62,"y":-0.22,"s":"R"},{"x":-0.6,"y":-0.5,"s":"R"},{"x":-0.57,"y":-0.08,"s":"R"},{"x":-0.53,"y":-0.35,"s":"R"},{"x":-0.5,"y":-0.18,"s":"R"},{"x":-0.47,"y":-0.6,"s":"R"},{"x":-0.45,"y":-0.28,"s":"R"},{"x":-0.42,"y":-0.05,"s":"R"},{"x":-0.4,"y":-0.42,"s":"R"},{"x":-0.37,"y":-0.15,"s":"R"},{"x":-0.35,"y":-0.7,"s":"R"},{"x":-0.32,"y":-0.3,"s":"R"},{"x":-0.3,"y":-0.05,"s":"R"},{"x":-0.27,"y":-0.5,"s":"R"},{"x":-0.25,"y":-0.2,"s":"R"},{"x":-0.22,"y":-0.38,"s":"R"},{"x":-0.2,"y":-0.62,"s":"R"},{"x":-0.18,"y":-0.12,"s":"R"},{"x":-0.15,"y":-0.3,"s":"R"},{"x":-0.12,"y":-0.48,"s":"R"},{"x":-0.1,"y":-0.02,"s":"R"},{"x":-0.08,"y":-0.2,"s":"R"},{"x":-0.05,"y":-0.38,"s":"R"},{"x":0,"y":-0.12,"s":"R"},{"x":0.02,"y":-0.28,"s":"R"},{"x":0.05,"y":-0.05,"s":"R"},{"x":0.1,"y":0.05,"s":"R"},{"x":-0.6,"y":-0.7,"s":"R"},{"x":-0.38,"y":-0.78,"s":"R"},{"x":-0.82,"y":-0.42,"s":"R"}]
},
"layer":[
{"data":{"name":"heat"},"mark":"rect","encoding":{"x":{"field":"t","type":"ordinal","axis":null,"scale":{"type":"band","range":[17,283],"padding":0}},"y":{"field":"f","type":"ordinal","axis":null,"scale":{"type":"band","range":[173,120],"padding":0}},"color":{"field":"p","type":"quantitative","scale":{"domain":[0,9]}}}},
{"data":{"name":"raw"},"mark":{"type":"line","color":"#111","strokeWidth":2.4},"encoding":{"x":{"field":"t","type":"quantitative","axis":null,"scale":{"domain":[0,121],"range":[17,283]}},"y":{"field":"v","type":"quantitative","axis":null,"scale":{"domain":[-200,100],"range":[84,48]}}}},
{"data":{"name":"lfp"},"mark":{"type":"line","color":"#111","strokeWidth":1},"encoding":{"x":{"field":"t","type":"quantitative","axis":null,"scale":{"domain":[0,121],"range":[17,283]}},"y":{"field":"v","type":"quantitative","axis":null,"scale":{"domain":[-50,50],"range":[103,91]}}}},
{"data":{"name":"ramp"},"mark":"area","encoding":{"x":{"field":"t","type":"quantitative","axis":null,"scale":{"domain":[0,1],"range":[83,217]}},"y":{"field":"a","type":"quantitative","axis":null,"scale":{"domain":[-1,1],"range":[45,41]}},"y2":{"field":"b"}}},
{"data":{"name":"ramp"},"mark":"area","encoding":{"x":{"field":"t","type":"quantitative","axis":null,"scale":{"domain":[0,1],"range":[381,414]}},"y":{"field":"a","type":"quantitative","axis":null,"scale":{"domain":[-1,1],"range":[45,41]}},"y2":{"field":"b"}}},
{"data":{"name":"ramp"},"mark":"area","encoding":{"x":{"field":"t","type":"quantitative","axis":null,"scale":{"domain":[0,1],"range":[550,581]}},"y":{"field":"a","type":"quantitative","axis":null,"scale":{"domain":[-1,1],"range":[45,41]}},"y2":{"field":"b"}}},
{"data":{"name":"ramp"},"mark":"area","encoding":{"x":{"field":"t","type":"quantitative","axis":null,"scale":{"domain":[0,1],"range":[703,734]}},"y":{"field":"a","type":"quantitative","axis":null,"scale":{"domain":[-1,1],"range":[45,41]}},"y2":{"field":"b"}}},
{"data":{"name":"ramp"},"mark":"area","encoding":{"x":{"field":"t","type":"quantitative","axis":null,"scale":{"domain":[0,1],"range":[7,34]}},"y":{"field":"a","type":"quantitative","axis":null,"scale":{"domain":[-1,1],"range":[224,219]}},"y2":{"field":"b"}}},
{"data":{"name":"ramp"},"mark":"area","encoding":{"x":{"field":"t","type":"quantitative","axis":null,"scale":{"domain":[0,1],"range":[408,435]}},"y":{"field":"a","type":"quantitative","axis":null,"scale":{"domain":[-1,1],"range":[224,220]}},"y2":{"field":"b"}}},
{"data":{"name":"ramp"},"mark":"area","encoding":{"x":{"field":"t","type":"quantitative","axis":null,"scale":{"domain":[0,1],"range":[7,34]}},"y":{"field":"a","type":"quantitative","axis":null,"scale":{"domain":[-1,1],"range":[361,356]}},"y2":{"field":"b"}}},
{"data":{"name":"ramp"},"mark":"area","encoding":{"x":{"field":"t","type":"quantitative","axis":null,"scale":{"domain":[0,1],"range":[408,435]}},"y":{"field":"a","type":"quantitative","axis":null,"scale":{"domain":[-1,1],"range":[360,356]}},"y2":{"field":"b"}}},
{"encoding":{"x":{"field":"x","type":"quantitative","axis":null,"scale":{"domain":[0,788],"range":[0,788]}},"y":{"field":"y","type":"quantitative","axis":null,"scale":{"domain":[0,454],"range":[0,454]}}},"layer":[
{"data":{"values":[{"x":26,"y":14,"t":"IUE at E12.5 to P8–10"},{"x":27,"y":29,"t":"ChR2(ET/TC)"},{"x":20,"y":45,"t":"Raw signal"},{"x":20,"y":86,"t":"LFP (4–100 Hz)"},{"x":20,"y":113,"t":"Wavelet (4–100 Hz)"},{"x":255,"y":186,"t":"1s"},{"x":17,"y":204,"t":"MUA phase locking"},{"x":133,"y":204,"t":"Ramp"},{"x":133,"y":217,"t":"Baseline"},{"x":38,"y":220,"t":"Stimulation"},{"x":465,"y":221,"t":"Post"},{"x":20,"y":342,"t":"SUA phase locking"},{"x":133,"y":341,"t":"Ramp"},{"x":133,"y":355,"t":"Baseline"},{"x":38,"y":358,"t":"Stimulation"},{"x":464,"y":357,"t":"Post"}]},"mark":{"type":"text","align":"left","fontSize":11.3},"encoding":{"text":{"field":"t"}}},
{"data":{"values":[{"x":1,"y":10,"t":"a"},{"x":315,"y":9,"t":"b"},{"x":1,"y":200,"t":"c"},{"x":1,"y":335,"t":"d"}]},"mark":{"type":"text","align":"left","fontSize":14,"fontWeight":"bold","color":"#000"},"encoding":{"text":{"field":"t"}}},
{"data":{"values":[{"x":13,"y":127,"t":"64"},{"x":13,"y":139,"t":"32"},{"x":13,"y":150,"t":"16"},{"x":13,"y":161,"t":"8"},{"x":13,"y":172,"t":"4"}]},"mark":{"type":"text","align":"right","fontSize":10.5},"encoding":{"text":{"field":"t"}}},
{"data":{"values":[{"x":295,"y":56,"t":"100 μV"},{"x":295,"y":94,"t":"100 μV"}]},"mark":{"type":"text","angle":90,"fontSize":9},"encoding":{"text":{"field":"t"}}},
{"data":{"values":[{"x":115,"y":400,"t":"**"},{"x":517,"y":400,"t":"**"}]},"mark":{"type":"text","fontSize":11,"fontWeight":"bold"},"encoding":{"text":{"field":"t"}}},
{"data":{"values":[{"x":239,"y":174.5,"u":283,"v":174.5},{"x":287,"y":50,"u":287,"v":63},{"x":287,"y":88,"u":287,"v":99},{"x":109,"y":404,"u":121,"v":404},{"x":511,"y":404,"u":523,"v":404}]},"mark":{"type":"rule","color":"#111","strokeWidth":1.3},"encoding":{"x2":{"field":"u"},"y2":{"field":"v"}}},
{"data":{"values":[{"x":358,"y":141,"u":432,"v":141},{"x":525,"y":141,"u":599,"v":141},{"x":678,"y":141,"u":752,"v":141}]},"mark":{"type":"rule","color":"#666","strokeWidth":1,"strokeDash":[2,2]},"encoding":{"x2":{"field":"u"},"y2":{"field":"v"}}},
{"data":{"values":[{"x":381,"y":35,"u":397,"v":48},{"x":564,"y":35,"u":581,"v":48},{"x":734,"y":35,"u":751,"v":48},{"x":7,"y":216,"u":34,"v":226},{"x":435,"y":215,"u":462,"v":226},{"x":7,"y":353,"u":34,"v":363},{"x":435,"y":352,"u":462,"v":363}]},"mark":{"type":"rect","filled":false,"stroke":"#555","strokeWidth":1.1},"encoding":{"x2":{"field":"u"},"y2":{"field":"v"}}},
{"data":{"values":[{"x":364,"y":35,"u":380,"v":48},{"x":532,"y":35,"u":549,"v":48},{"x":685,"y":35,"u":702,"v":48}]},"mark":{"type":"rect","filled":false,"stroke":"#444","strokeWidth":1,"strokeDash":[2,2]},"encoding":{"x2":{"field":"u"},"y2":{"field":"v"}}},
{"data":{"values":[{"x":19,"y":28},{"x":125,"y":204},{"x":125,"y":341}]},"mark":{"type":"square","color":"#be1e2d","size":36,"opacity":1},"encoding":{}},
{"data":{"values":[{"x":125,"y":217},{"x":125,"y":355}]},"mark":{"type":"square","color":"#555","size":36,"opacity":1},"encoding":{}}
]},
{"encoding":{"x":{"field":"c","type":"nominal","sort":null,"scale":{"domain":["θ","β","γ"],"range":[358,432],"paddingInner":0.47,"paddingOuter":0.235},"axis":{"orient":"bottom","offset":-284,"title":null,"labelAngle":0,"labelFont":"Liberation Serif","labelFontSize":13,"tickSize":2,"labelPadding":5}},"y":{"field":"v","type":"quantitative","scale":{"domain":[0,3],"range":[170,83]},"axis":{"orient":"left","offset":-358,"values":[0,1,2,3],"tickSize":2,"labelFontSize":12,"title":["Power ratio","(first half/pre)"],"titleFontSize":9.5,"titlePadding":3}}},"layer":[
{"data":{"name":"b1"},"mark":{"type":"bar","color":"#be1e2d"},"encoding":{"y2":{"datum":1}}},
{"data":{"name":"e1"},"mark":{"type":"line","color":"#222","strokeWidth":1},"encoding":{"detail":{"field":"c"}}},
{"data":{"name":"e1"},"mark":{"type":"tick","orient":"horizontal","size":5,"thickness":1,"color":"#222"}},
{"data":{"name":"p1"},"mark":{"type":"point","shape":"M-1,0L1,0M0,-1L0,1","size":18,"xOffset":10,"color":"#222","strokeWidth":1}},
{"data":{"name":"s1"},"mark":{"type":"text","fontSize":13},"encoding":{"text":{"field":"s"}}}]},
{"encoding":{"x":{"field":"c","type":"nominal","sort":null,"scale":{"domain":["θ","β","γ"],"range":[525,599],"paddingInner":0.47,"paddingOuter":0.235},"axis":{"orient":"bottom","offset":-284,"title":null,"labelAngle":0,"labelFont":"Liberation Serif","labelFontSize":13,"tickSize":2,"labelPadding":5}},"y":{"field":"v","type":"quantitative","scale":{"domain":[0,3],"range":[170,83]},"axis":{"orient":"left","offset":-525,"values":[0,1,2,3],"tickSize":2,"labelFontSize":12,"title":["Power ratio","(second half/pre)"],"titleFontSize":9.5,"titlePadding":3}}},"layer":[
{"data":{"name":"b2"},"mark":{"type":"bar","color":"#be1e2d"},"encoding":{"y2":{"datum":1}}},
{"data":{"name":"e2"},"mark":{"type":"line","color":"#222","strokeWidth":1},"encoding":{"detail":{"field":"c"}}},
{"data":{"name":"e2"},"mark":{"type":"tick","orient":"horizontal","size":5,"thickness":1,"color":"#222"}},
{"data":{"name":"p2"},"mark":{"type":"point","shape":"M-1,0L1,0M0,-1L0,1","size":18,"xOffset":10,"color":"#222","strokeWidth":1}},
{"data":{"name":"s2"},"mark":{"type":"text","fontSize":13},"encoding":{"text":{"field":"s"}}}]},
{"encoding":{"x":{"field":"c","type":"nominal","sort":null,"scale":{"domain":["θ","β","γ"],"range":[678,752],"paddingInner":0.47,"paddingOuter":0.235},"axis":{"orient":"bottom","offset":-284,"title":null,"labelAngle":0,"labelFont":"Liberation Serif","labelFontSize":13,"tickSize":2,"labelPadding":5}},"y":{"field":"v","type":"quantitative","scale":{"domain":[0,3],"range":[170,83]},"axis":{"orient":"left","offset":-678,"values":[0,1,2,3],"tickSize":2,"labelFontSize":12,"title":["Power ratio","(post/pre)"],"titleFontSize":9.5,"titlePadding":3}}},"layer":[
{"data":{"name":"b3"},"mark":{"type":"bar","color":"#be1e2d"},"encoding":{"y2":{"datum":1}}},
{"data":{"name":"e3"},"mark":{"type":"line","color":"#222","strokeWidth":1},"encoding":{"detail":{"field":"c"}}},
{"data":{"name":"e3"},"mark":{"type":"tick","orient":"horizontal","size":5,"thickness":1,"color":"#222"}},
{"data":{"name":"p3"},"mark":{"type":"point","shape":"M-1,0L1,0M0,-1L0,1","size":18,"xOffset":10,"color":"#222","strokeWidth":1}},
{"data":{"name":"s3"},"mark":{"type":"text","fontSize":13},"encoding":{"text":{"field":"s"}}}]},
{"encoding":{"x":{"field":"x","type":"quantitative","axis":null,"scale":{"domain":[-1,1],"range":[17.5,78.5]}},"y":{"field":"y","type":"quantitative","axis":null,"scale":{"domain":[-1,1],"range":[301.5,240.5]}}},"layer":[{"data":{"name":"o"},"mark":{"type":"point","filled":false,"size":3721},"encoding":{}},{"data":{"name":"o"},"mark":{"type":"point","filled":false,"size":930},"encoding":{}},{"data":{"name":"sp"},"mark":"rule","encoding":{"x2":{"field":"u"},"y2":{"field":"v"}}},{"data":{"name":"pl"},"mark":"text","encoding":{"text":{"field":"t"}}},{"data":{"values":[{"x":-1.12,"y":1.15,"t":"θ"}]},"mark":{"type":"text","font":"Liberation Serif","fontSize":13},"encoding":{"text":{"field":"t"}}},{"data":{"name":"c1"},"mark":{"type":"point","filled":true,"size":16,"opacity":0.5},"encoding":{"color":{"field":"s","scale":{"domain":["B","R"]}}}},{"data":{"values":[{"x":0,"y":0,"u":-0.05,"v":0.02}]},"mark":{"type":"rule","color":"#400","strokeWidth":2.5},"encoding":{"x2":{"field":"u"},"y2":{"field":"v"}}}]},
{"encoding":{"x":{"field":"x","type":"quantitative","axis":null,"scale":{"domain":[-1,1],"range":[144.5,205.5]}},"y":{"field":"y","type":"quantitative","axis":null,"scale":{"domain":[-1,1],"range":[301.5,240.5]}}},"layer":[{"data":{"name":"o"},"mark":{"type":"point","filled":false,"size":3721},"encoding":{}},{"data":{"name":"o"},"mark":{"type":"point","filled":false,"size":930},"encoding":{}},{"data":{"name":"sp"},"mark":"rule","encoding":{"x2":{"field":"u"},"y2":{"field":"v"}}},{"data":{"name":"pl"},"mark":"text","encoding":{"text":{"field":"t"}}},{"data":{"values":[{"x":-1.12,"y":1.15,"t":"β"}]},"mark":{"type":"text","font":"Liberation Serif","fontSize":13},"encoding":{"text":{"field":"t"}}},{"data":{"name":"c2"},"mark":{"type":"point","filled":true,"size":16,"opacity":0.5},"encoding":{"color":{"field":"s","scale":{"domain":["B","R"]}}}},{"data":{"values":[{"x":0,"y":0,"u":-0.03,"v":-0.02}]},"mark":{"type":"rule","color":"#400","strokeWidth":2.5},"encoding":{"x2":{"field":"u"},"y2":{"field":"v"}}}]},
{"encoding":{"x":{"field":"x","type":"quantitative","axis":null,"scale":{"domain":[-1,1],"range":[272.5,333.5]}},"y":{"field":"y","type":"quantitative","axis":null,"scale":{"domain":[-1,1],"range":[301.5,240.5]}}},"layer":[{"data":{"name":"o"},"mark":{"type":"point","filled":false,"size":3721},"encoding":{}},{"data":{"name":"o"},"mark":{"type":"point","filled":false,"size":930},"encoding":{}},{"data":{"name":"sp"},"mark":"rule","encoding":{"x2":{"field":"u"},"y2":{"field":"v"}}},{"data":{"name":"pl"},"mark":"text","encoding":{"text":{"field":"t"}}},{"data":{"values":[{"x":-1.12,"y":1.15,"t":"γ"}]},"mark":{"type":"text","font":"Liberation Serif","fontSize":13},"encoding":{"text":{"field":"t"}}},{"data":{"name":"c3"},"mark":{"type":"point","filled":true,"size":16,"opacity":0.5},"encoding":{"color":{"field":"s","scale":{"domain":["B","R"]}}}},{"data":{"values":[{"x":0,"y":0,"u":-0.22,"v":-0.17}]},"mark":{"type":"rule","color":"#600","strokeWidth":1.6},"encoding":{"x2":{"field":"u"},"y2":{"field":"v"}}}]},
{"encoding":{"x":{"field":"x","type":"quantitative","axis":null,"scale":{"domain":[-1,1],"range":[419.5,480.5]}},"y":{"field":"y","type":"quantitative","axis":null,"scale":{"domain":[-1,1],"range":[301.5,240.5]}}},"layer":[{"data":{"name":"o"},"mark":{"type":"point","filled":false,"size":3721},"encoding":{}},{"data":{"name":"o"},"mark":{"type":"point","filled":false,"size":930},"encoding":{}},{"data":{"name":"sp"},"mark":"rule","encoding":{"x2":{"field":"u"},"y2":{"field":"v"}}},{"data":{"name":"pl"},"mark":"text","encoding":{"text":{"field":"t"}}},{"data":{"values":[{"x":-1.12,"y":1.15,"t":"θ"}]},"mark":{"type":"text","font":"Liberation Serif","fontSize":13},"encoding":{"text":{"field":"t"}}},{"data":{"name":"c4"},"mark":{"type":"point","filled":true,"size":16,"opacity":0.5},"encoding":{"color":{"field":"s","scale":{"domain":["B","R"]}}}},{"data":{"values":[{"x":0,"y":0,"u":-0.05,"v":0.02}]},"mark":{"type":"rule","color":"#400","strokeWidth":2.5},"encoding":{"x2":{"field":"u"},"y2":{"field":"v"}}}]},
{"encoding":{"x":{"field":"x","type":"quantitative","axis":null,"scale":{"domain":[-1,1],"range":[548.5,609.5]}},"y":{"field":"y","type":"quantitative","axis":null,"scale":{"domain":[-1,1],"range":[301.5,240.5]}}},"layer":[{"data":{"name":"o"},"mark":{"type":"point","filled":false,"size":3721},"encoding":{}},{"data":{"name":"o"},"mark":{"type":"point","filled":false,"size":930},"encoding":{}},{"data":{"name":"sp"},"mark":"rule","encoding":{"x2":{"field":"u"},"y2":{"field":"v"}}},{"data":{"name":"pl"},"mark":"text","encoding":{"text":{"field":"t"}}},{"data":{"values":[{"x":-1.12,"y":1.15,"t":"β"}]},"mark":{"type":"text","font":"Liberation Serif","fontSize":13},"encoding":{"text":{"field":"t"}}},{"data":{"name":"c5"},"mark":{"type":"point","filled":true,"size":16,"opacity":0.5},"encoding":{"color":{"field":"s","scale":{"domain":["B","R"]}}}},{"data":{"values":[{"x":0,"y":0,"u":-0.08,"v":-0.05}]},"mark":{"type":"rule","color":"#400","strokeWidth":2.5},"encoding":{"x2":{"field":"u"},"y2":{"field":"v"}}}]},
{"encoding":{"x":{"field":"x","type":"quantitative","axis":null,"scale":{"domain":[-1,1],"range":[677.5,738.5]}},"y":{"field":"y","type":"quantitative","axis":null,"scale":{"domain":[-1,1],"range":[301.5,240.5]}}},"layer":[{"data":{"name":"o"},"mark":{"type":"point","filled":false,"size":3721},"encoding":{}},{"data":{"name":"o"},"mark":{"type":"point","filled":false,"size":930},"encoding":{}},{"data":{"name":"sp"},"mark":"rule","encoding":{"x2":{"field":"u"},"y2":{"field":"v"}}},{"data":{"name":"pl"},"mark":"text","encoding":{"text":{"field":"t"}}},{"data":{"values":[{"x":-1.12,"y":1.15,"t":"γ"}]},"mark":{"type":"text","font":"Liberation Serif","fontSize":13},"encoding":{"text":{"field":"t"}}},{"data":{"name":"c6"},"mark":{"type":"point","filled":true,"size":16,"opacity":0.5},"encoding":{"color":{"field":"s","scale":{"domain":["B","R"]}}}},{"data":{"values":[{"x":0,"y":0,"u":-0.3,"v":-0.15}]},"mark":{"type":"rule","color":"#600","strokeWidth":1.6},"encoding":{"x2":{"field":"u"},"y2":{"field":"v"}}}]},
{"encoding":{"x":{"field":"x","type":"quantitative","axis":null,"scale":{"domain":[-1,1],"range":[17.5,78.5]}},"y":{"field":"y","type":"quantitative","axis":null,"scale":{"domain":[-1,1],"range":[438.5,377.5]}}},"layer":[{"data":{"name":"o"},"mark":{"type":"point","filled":false,"size":3721},"encoding":{}},{"data":{"name":"o"},"mark":{"type":"point","filled":false,"size":930},"encoding":{}},{"data":{"name":"sp"},"mark":"rule","encoding":{"x2":{"field":"u"},"y2":{"field":"v"}}},{"data":{"name":"pl"},"mark":"text","encoding":{"text":{"field":"t"}}},{"data":{"values":[{"x":-1.12,"y":1.15,"t":"θ"}]},"mark":{"type":"text","font":"Liberation Serif","fontSize":13},"encoding":{"text":{"field":"t"}}},{"data":{"name":"d1"},"mark":{"type":"point","filled":true,"size":16,"opacity":0.5},"encoding":{"color":{"field":"s","scale":{"domain":["B","R"]}}}},{"data":{"values":[{"x":0,"y":0,"u":-0.05,"v":0.02}]},"mark":{"type":"rule","color":"#400","strokeWidth":2.5},"encoding":{"x2":{"field":"u"},"y2":{"field":"v"}}}]},
{"encoding":{"x":{"field":"x","type":"quantitative","axis":null,"scale":{"domain":[-1,1],"range":[145.5,206.5]}},"y":{"field":"y","type":"quantitative","axis":null,"scale":{"domain":[-1,1],"range":[438.5,377.5]}}},"layer":[{"data":{"name":"o"},"mark":{"type":"point","filled":false,"size":3721},"encoding":{}},{"data":{"name":"o"},"mark":{"type":"point","filled":false,"size":930},"encoding":{}},{"data":{"name":"sp"},"mark":"rule","encoding":{"x2":{"field":"u"},"y2":{"field":"v"}}},{"data":{"name":"pl"},"mark":"text","encoding":{"text":{"field":"t"}}},{"data":{"values":[{"x":-1.12,"y":1.15,"t":"β"}]},"mark":{"type":"text","font":"Liberation Serif","fontSize":13},"encoding":{"text":{"field":"t"}}},{"data":{"name":"d2"},"mark":{"type":"point","filled":true,"size":16,"opacity":0.5},"encoding":{"color":{"field":"s","scale":{"domain":["B","R"]}}}},{"data":{"values":[{"x":0,"y":0,"u":-0.06,"v":-0.03}]},"mark":{"type":"rule","color":"#400","strokeWidth":2.5},"encoding":{"x2":{"field":"u"},"y2":{"field":"v"}}}]},
{"encoding":{"x":{"field":"x","type":"quantitative","axis":null,"scale":{"domain":[-1,1],"range":[272.5,333.5]}},"y":{"field":"y","type":"quantitative","axis":null,"scale":{"domain":[-1,1],"range":[438.5,377.5]}}},"layer":[{"data":{"name":"o"},"mark":{"type":"point","filled":false,"size":3721},"encoding":{}},{"data":{"name":"o"},"mark":{"type":"point","filled":false,"size":930},"encoding":{}},{"data":{"name":"sp"},"mark":"rule","encoding":{"x2":{"field":"u"},"y2":{"field":"v"}}},{"data":{"name":"pl"},"mark":"text","encoding":{"text":{"field":"t"}}},{"data":{"values":[{"x":-1.12,"y":1.15,"t":"γ"}]},"mark":{"type":"text","font":"Liberation Serif","fontSize":13},"encoding":{"text":{"field":"t"}}},{"data":{"name":"d3"},"mark":{"type":"point","filled":true,"size":16,"opacity":0.5},"encoding":{"color":{"field":"s","scale":{"domain":["B","R"]}}}},{"data":{"values":[{"x":0,"y":0,"u":-0.32,"v":-0.2}]},"mark":{"type":"rule","color":"#600","strokeWidth":1.6},"encoding":{"x2":{"field":"u"},"y2":{"field":"v"}}}]},
{"encoding":{"x":{"field":"x","type":"quantitative","axis":null,"scale":{"domain":[-1,1],"range":[419.5,480.5]}},"y":{"field":"y","type":"quantitative","axis":null,"scale":{"domain":[-1,1],"range":[438.5,377.5]}}},"layer":[{"data":{"name":"o"},"mark":{"type":"point","filled":false,"size":3721},"encoding":{}},{"data":{"name":"o"},"mark":{"type":"point","filled":false,"size":930},"encoding":{}},{"data":{"name":"sp"},"mark":"rule","encoding":{"x2":{"field":"u"},"y2":{"field":"v"}}},{"data":{"name":"pl"},"mark":"text","encoding":{"text":{"field":"t"}}},{"data":{"values":[{"x":-1.12,"y":1.15,"t":"θ"}]},"mark":{"type":"text","font":"Liberation Serif","fontSize":13},"encoding":{"text":{"field":"t"}}},{"data":{"name":"d4"},"mark":{"type":"point","filled":true,"size":16,"opacity":0.5},"encoding":{"color":{"field":"s","scale":{"domain":["B","R"]}}}},{"data":{"values":[{"x":0,"y":0,"u":-0.08,"v":0.02}]},"mark":{"type":"rule","color":"#400","strokeWidth":2.5},"encoding":{"x2":{"field":"u"},"y2":{"field":"v"}}}]},
{"encoding":{"x":{"field":"x","type":"quantitative","axis":null,"scale":{"domain":[-1,1],"range":[548.5,609.5]}},"y":{"field":"y","type":"quantitative","axis":null,"scale":{"domain":[-1,1],"range":[438.5,377.5]}}},"layer":[{"data":{"name":"o"},"mark":{"type":"point","filled":false,"size":3721},"encoding":{}},{"data":{"name":"o"},"mark":{"type":"point","filled":false,"size":930},"encoding":{}},{"data":{"name":"sp"},"mark":"rule","encoding":{"x2":{"field":"u"},"y2":{"field":"v"}}},{"data":{"name":"pl"},"mark":"text","encoding":{"text":{"field":"t"}}},{"data":{"values":[{"x":-1.12,"y":1.15,"t":"β"}]},"mark":{"type":"text","font":"Liberation Serif","fontSize":13},"encoding":{"text":{"field":"t"}}},{"data":{"name":"d5"},"mark":{"type":"point","filled":true,"size":16,"opacity":0.5},"encoding":{"color":{"field":"s","scale":{"domain":["B","R"]}}}},{"data":{"values":[{"x":0,"y":0,"u":-0.06,"v":-0.04}]},"mark":{"type":"rule","color":"#400","strokeWidth":2.5},"encoding":{"x2":{"field":"u"},"y2":{"field":"v"}}}]},
{"encoding":{"x":{"field":"x","type":"quantitative","axis":null,"scale":{"domain":[-1,1],"range":[677.5,738.5]}},"y":{"field":"y","type":"quantitative","axis":null,"scale":{"domain":[-1,1],"range":[438.5,377.5]}}},"layer":[{"data":{"name":"o"},"mark":{"type":"point","filled":false,"size":3721},"encoding":{}},{"data":{"name":"o"},"mark":{"type":"point","filled":false,"size":930},"encoding":{}},{"data":{"name":"sp"},"mark":"rule","encoding":{"x2":{"field":"u"},"y2":{"field":"v"}}},{"data":{"name":"pl"},"mark":"text","encoding":{"text":{"field":"t"}}},{"data":{"values":[{"x":-1.12,"y":1.15,"t":"γ"}]},"mark":{"type":"text","font":"Liberation Serif","fontSize":13},"encoding":{"text":{"field":"t"}}},{"data":{"name":"d6"},"mark":{"type":"point","filled":true,"size":16,"opacity":0.5},"encoding":{"color":{"field":"s","scale":{"domain":["B","R"]}}}},{"data":{"values":[{"x":0,"y":0,"u":-0.3,"v":-0.18}]},"mark":{"type":"rule","color":"#600","strokeWidth":1.6},"encoding":{"x2":{"field":"u"},"y2":{"field":"v"}}}]},
{"data":{"values":[{"s":"B","v":0.12},{"s":"R","v":0.13}]},"mark":"bar","encoding":{"color":{"field":"s"},"x":{"field":"s","type":"nominal","scale":{"range":[104,127],"paddingInner":0.2,"paddingOuter":0.15},"axis":{"orient":"bottom","offset":-157,"title":null,"labels":false,"ticks":false}},"y":{"field":"v","type":"quantitative","scale":{"domain":[0,1],"range":[297,261]},"axis":{"orient":"left","offset":-104,"values":[0,0.5,1],"labelExpr":"datum.value%1?'':datum.label","tickSize":2,"labelFontSize":8,"labelPadding":1,"title":"Stength","titleFontSize":8,"titlePadding":0}}}},
{"data":{"values":[{"s":"B","v":0.13},{"s":"R","v":0.13}]},"mark":"bar","encoding":{"color":{"field":"s"},"x":{"field":"s","type":"nominal","scale":{"range":[232,255],"paddingInner":0.2,"paddingOuter":0.15},"axis":{"orient":"bottom","offset":-157,"title":null,"labels":false,"ticks":false}},"y":{"field":"v","type":"quantitative","scale":{"domain":[0,1],"range":[297,261]},"axis":{"orient":"left","offset":-232,"values":[0,0.5,1],"labelExpr":"datum.value%1?'':datum.label","tickSize":2,"labelFontSize":8,"labelPadding":1,"title":"Stength","titleFontSize":8,"titlePadding":0}}}},
{"data":{"values":[{"s":"B","v":0.36},{"s":"R","v":0.37}]},"mark":"bar","encoding":{"color":{"field":"s"},"x":{"field":"s","type":"nominal","scale":{"range":[359,382],"paddingInner":0.2,"paddingOuter":0.15},"axis":{"orient":"bottom","offset":-157,"title":null,"labels":false,"ticks":false}},"y":{"field":"v","type":"quantitative","scale":{"domain":[0,1],"range":[297,261]},"axis":{"orient":"left","offset":-359,"values":[0,0.5,1],"labelExpr":"datum.value%1?'':datum.label","tickSize":2,"labelFontSize":8,"labelPadding":1,"title":"Stength","titleFontSize":8,"titlePadding":0}}}},
{"data":{"values":[{"s":"B","v":0.12},{"s":"R","v":0.15}]},"mark":"bar","encoding":{"color":{"field":"s"},"x":{"field":"s","type":"nominal","scale":{"range":[505,528],"paddingInner":0.2,"paddingOuter":0.15},"axis":{"orient":"bottom","offset":-157,"title":null,"labels":false,"ticks":false}},"y":{"field":"v","type":"quantitative","scale":{"domain":[0,1],"range":[297,261]},"axis":{"orient":"left","offset":-505,"values":[0,0.5,1],"labelExpr":"datum.value%1?'':datum.label","tickSize":2,"labelFontSize":8,"labelPadding":1,"title":"Stength","titleFontSize":8,"titlePadding":0}}}},
{"data":{"values":[{"s":"B","v":0.13},{"s":"R","v":0.12}]},"mark":"bar","encoding":{"color":{"field":"s"},"x":{"field":"s","type":"nominal","scale":{"range":[634,657],"paddingInner":0.2,"paddingOuter":0.15},"axis":{"orient":"bottom","offset":-157,"title":null,"labels":false,"ticks":false}},"y":{"field":"v","type":"quantitative","scale":{"domain":[0,1],"range":[297,261]},"axis":{"orient":"left","offset":-634,"values":[0,0.5,1],"labelExpr":"datum.value%1?'':datum.label","tickSize":2,"labelFontSize":8,"labelPadding":1,"title":"Stength","titleFontSize":8,"titlePadding":0}}}},
{"data":{"values":[{"s":"B","v":0.36},{"s":"R","v":0.36}]},"mark":"bar","encoding":{"color":{"field":"s"},"x":{"field":"s","type":"nominal","scale":{"range":[764,787],"paddingInner":0.2,"paddingOuter":0.15},"axis":{"orient":"bottom","offset":-157,"title":null,"labels":false,"ticks":false}},"y":{"field":"v","type":"quantitative","scale":{"domain":[0,1],"range":[297,261]},"axis":{"orient":"left","offset":-764,"values":[0,0.5,1],"labelExpr":"datum.value%1?'':datum.label","tickSize":2,"labelFontSize":8,"labelPadding":1,"title":"Stength","titleFontSize":8,"titlePadding":0}}}},
{"data":{"values":[{"s":"B","v":0.33},{"s":"R","v":0.39}]},"mark":"bar","encoding":{"color":{"field":"s"},"x":{"field":"s","type":"nominal","scale":{"range":[104,127],"paddingInner":0.2,"paddingOuter":0.15},"axis":{"orient":"bottom","offset":-20,"title":null,"labels":false,"ticks":false}},"y":{"field":"v","type":"quantitative","scale":{"domain":[0,1],"range":[434,397]},"axis":{"orient":"left","offset":-104,"values":[0,0.5,1],"labelExpr":"datum.value%1?'':datum.label","tickSize":2,"labelFontSize":8,"labelPadding":1,"title":"Stength","titleFontSize":8,"titlePadding":0}}}},
{"data":{"values":[{"s":"B","v":0.37},{"s":"R","v":0.37}]},"mark":"bar","encoding":{"color":{"field":"s"},"x":{"field":"s","type":"nominal","scale":{"range":[232,255],"paddingInner":0.2,"paddingOuter":0.15},"axis":{"orient":"bottom","offset":-20,"title":null,"labels":false,"ticks":false}},"y":{"field":"v","type":"quantitative","scale":{"domain":[0,1],"range":[434,397]},"axis":{"orient":"left","offset":-232,"values":[0,0.5,1],"labelExpr":"datum.value%1?'':datum.label","tickSize":2,"labelFontSize":8,"labelPadding":1,"title":"Stength","titleFontSize":8,"titlePadding":0}}}},
{"data":{"values":[{"s":"B","v":0.77},{"s":"R","v":0.77}]},"mark":"bar","encoding":{"color":{"field":"s"},"x":{"field":"s","type":"nominal","scale":{"range":[359,382],"paddingInner":0.2,"paddingOuter":0.15},"axis":{"orient":"bottom","offset":-20,"title":null,"labels":false,"ticks":false}},"y":{"field":"v","type":"quantitative","scale":{"domain":[0,1],"range":[434,397]},"axis":{"orient":"left","offset":-359,"values":[0,0.5,1],"labelExpr":"datum.value%1?'':datum.label","tickSize":2,"labelFontSize":8,"labelPadding":1,"title":"Stength","titleFontSize":8,"titlePadding":0}}}},
{"data":{"values":[{"s":"B","v":0.33},{"s":"R","v":0.39}]},"mark":"bar","encoding":{"color":{"field":"s"},"x":{"field":"s","type":"nominal","scale":{"range":[505,528],"paddingInner":0.2,"paddingOuter":0.15},"axis":{"orient":"bottom","offset":-20,"title":null,"labels":false,"ticks":false}},"y":{"field":"v","type":"quantitative","scale":{"domain":[0,1],"range":[434,397]},"axis":{"orient":"left","offset":-505,"values":[0,0.5,1],"labelExpr":"datum.value%1?'':datum.label","tickSize":2,"labelFontSize":8,"labelPadding":1,"title":"Stength","titleFontSize":8,"titlePadding":0}}}},
{"data":{"values":[{"s":"B","v":0.35},{"s":"R","v":0.33}]},"mark":"bar","encoding":{"color":{"field":"s"},"x":{"field":"s","type":"nominal","scale":{"range":[635,658],"paddingInner":0.2,"paddingOuter":0.15},"axis":{"orient":"bottom","offset":-20,"title":null,"labels":false,"ticks":false}},"y":{"field":"v","type":"quantitative","scale":{"domain":[0,1],"range":[434,397]},"axis":{"orient":"left","offset":-635,"values":[0,0.5,1],"labelExpr":"datum.value%1?'':datum.label","tickSize":2,"labelFontSize":8,"labelPadding":1,"title":"Stength","titleFontSize":8,"titlePadding":0}}}},
{"data":{"values":[{"s":"B","v":0.78},{"s":"R","v":0.78}]},"mark":"bar","encoding":{"color":{"field":"s"},"x":{"field":"s","type":"nominal","scale":{"range":[763,786],"paddingInner":0.2,"paddingOuter":0.15},"axis":{"orient":"bottom","offset":-20,"title":null,"labels":false,"ticks":false}},"y":{"field":"v","type":"quantitative","scale":{"domain":[0,1],"range":[434,397]},"axis":{"orient":"left","offset":-763,"values":[0,0.5,1],"labelExpr":"datum.value%1?'':datum.label","tickSize":2,"labelFontSize":8,"labelPadding":1,"title":"Stength","titleFontSize":8,"titlePadding":0}}}}
]}
